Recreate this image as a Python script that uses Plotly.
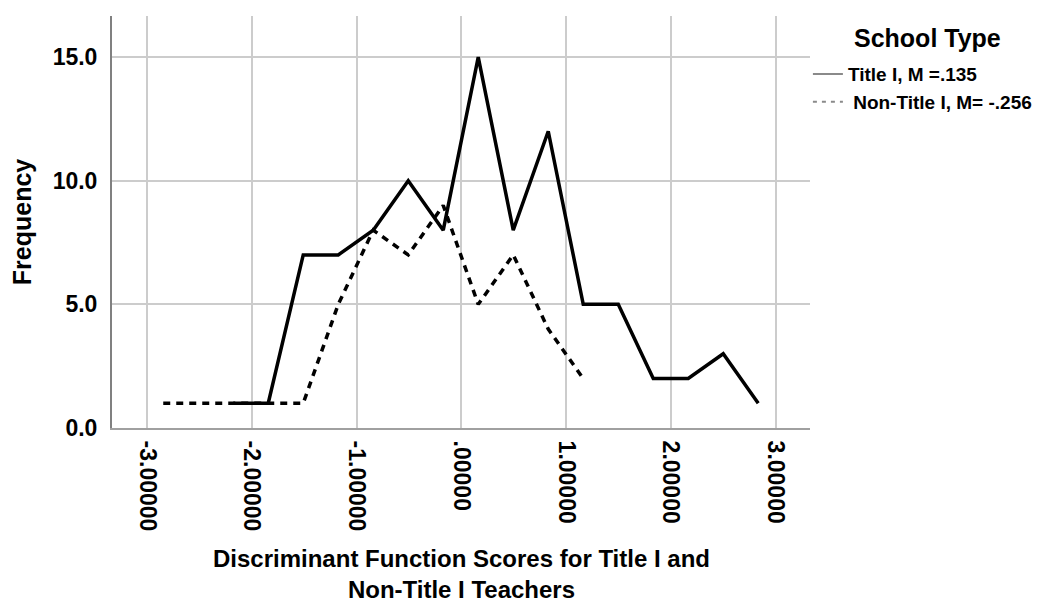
import plotly.graph_objects as go

# Data
title1_x = [-2.177, -1.843, -1.509, -1.175, -0.841, -0.507, -0.173, 0.161, 0.495, 0.829, 1.163, 1.497, 1.831, 2.165, 2.499, 2.833]
title1_y = [1, 1, 7, 7, 8, 10, 8, 15, 8, 12, 5, 5, 2, 2, 3, 1]

nontitle_x = [-2.845, -2.511, -2.177, -1.843, -1.509, -1.175, -0.841, -0.507, -0.173, 0.161, 0.495, 0.829, 1.163]
nontitle_y = [1, 1, 1, 1, 1, 5, 8, 7, 9, 5, 7, 4, 2]

x_ticks = [-3, -2, -1, 0, 1, 2, 3]
x_tick_labels = ["-3.00000", "-2.00000", "-1.00000", ".00000", "1.00000", "2.00000", "3.00000"]
y_ticks = [0, 5, 10, 15]
y_tick_labels = ["0.0", "5.0", "10.0", "15.0"]

x_title = "Discriminant Function Scores for Title I and<br>Non-Title I Teachers"
legend_title = "School Type"
series_names = ["Title I, M =.135", " Non-Title I, M= -.256"]

FONT = "Liberation Sans, Arial, sans-serif"

fig = go.Figure()

fig.add_trace(go.Scatter(
    x=title1_x, y=title1_y, mode="lines",
    line=dict(color="black", width=3.5),
    showlegend=False, hoverinfo="skip"))
fig.add_trace(go.Scatter(
    x=nontitle_x, y=nontitle_y, mode="lines",
    line=dict(color="black", width=3.5, dash="7px,6px"),
    showlegend=False, hoverinfo="skip"))

# legend entries (grey, thin, as in the reference)
fig.add_trace(go.Scatter(
    x=[None], y=[None], mode="lines", name=series_names[0],
    line=dict(color="#8a8a8a", width=2)))
fig.add_trace(go.Scatter(
    x=[None], y=[None], mode="lines", name=series_names[1],
    line=dict(color="#8a8a8a", width=2, dash="4px,5px")))

# legend heading
fig.add_annotation(
    text=legend_title, xref="paper", yref="paper", x=1.168, y=0.946,
    xanchor="center", yanchor="middle", showarrow=False,
    font=dict(family=FONT, size=25, weight="bold", color="black"))

# x-axis title
fig.add_annotation(
    text=x_title, xref="paper", yref="paper", x=0.5, y=-0.3534,
    xanchor="center", yanchor="middle", showarrow=False, align="center",
    font=dict(family=FONT, size=24, weight="bold", color="black"))

# page body has an 8px margin: figure is drawn at (8, 8)
fig.update_layout(
    width=1036, height=599,
    margin=dict(l=104, r=234, t=8, b=179, autoexpand=False),
    paper_bgcolor="white", plot_bgcolor="white",
    font=dict(family=FONT, color="black"),
    legend=dict(
        x=0.997, xanchor="left", y=0.905, yanchor="top",
        font=dict(family=FONT, size=19, weight="bold", color="black"),
        itemwidth=30, tracegroupgap=0, bgcolor="rgba(0,0,0,0)"),
    xaxis=dict(
        range=[-3.334, 3.327], tickmode="array", tickvals=x_ticks, ticktext=x_tick_labels,
        tickangle=90, tickfont=dict(family=FONT, size=23, weight="bold", color="black"),
        showgrid=True, gridcolor="#cccccc", gridwidth=1.5,
        showline=True, linecolor="#a0a0a0", linewidth=2,
        ticks="", ticklabelstandoff=6, zeroline=False),
    yaxis=dict(
        range=[0, 16.66], tickmode="array", tickvals=y_ticks, ticktext=y_tick_labels,
        tickfont=dict(family=FONT, size=23, weight="bold", color="black"),
        showgrid=True, gridcolor="#cccccc", gridwidth=1.5,
        showline=True, linecolor="#808080", linewidth=2,
        ticks="", ticklabelstandoff=8, zeroline=False,
        title=dict(text="Frequency",
                   font=dict(family=FONT, size=25, weight="bold", color="black"), standoff=16)),
)

fig.write_html("out.html")
